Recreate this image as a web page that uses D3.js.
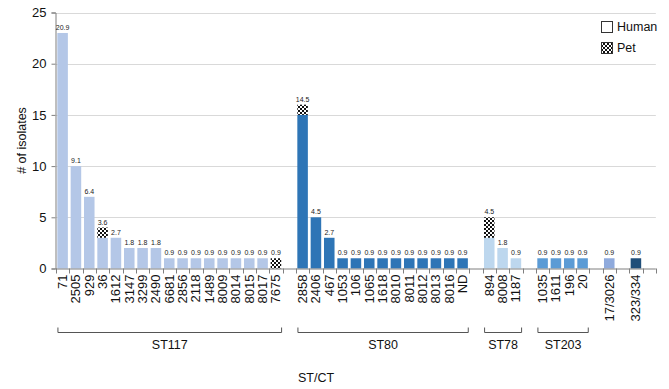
<!DOCTYPE html>
<html>
<head>
<meta charset="utf-8">
<script src="https://cdn.jsdelivr.net/npm/d3@7"></script>
<style>
  body { margin: 0; background: #fff; }
  svg { font-family: "Liberation Sans", Arial, sans-serif; }
</style>
</head>
<body>
<div id="chart"></div>
<script>
// clonal complex (CT) per bar
const ctLabels = [
    '71', '2505', '929', '36', '1612', '3147', '3299', '2490', '6681', '2856', '2118', '1489', '8009', '8014', '8015', '8017', '7675',
    '2858', '2406', '467', '1053', '106', '1065', '1618', '8010', '8011', '8012', '8013', '8016', 'ND',
    '894', '8008', '1187',
    '1035', '1611', '196', '20',
    '17/3026',
    '323/334'
];
const stGroup = [
    'ST117', 'ST117', 'ST117', 'ST117', 'ST117', 'ST117', 'ST117', 'ST117', 'ST117', 'ST117', 'ST117', 'ST117', 'ST117', 'ST117', 'ST117', 'ST117', 'ST117',
    'ST80', 'ST80', 'ST80', 'ST80', 'ST80', 'ST80', 'ST80', 'ST80', 'ST80', 'ST80', 'ST80', 'ST80', 'ST80',
    'ST78', 'ST78', 'ST78',
    'ST203', 'ST203', 'ST203', 'ST203',
    'ST17',
    'ST323'
];
const humanCounts = [
    23, 10, 7, 3, 3, 2, 2, 2, 1, 1, 1, 1, 1, 1, 1, 1, 0,
    15, 5, 3, 1, 1, 1, 1, 1, 1, 1, 1, 1, 1,
    3, 2, 1,
    1, 1, 1, 1,
    1,
    1
];
const petCounts = [
    0, 0, 0, 1, 0, 0, 0, 0, 0, 0, 0, 0, 0, 0, 0, 0, 1,
    1, 0, 0, 0, 0, 0, 0, 0, 0, 0, 0, 0, 0,
    2, 0, 0,
    0, 0, 0, 0,
    0,
    0
];
const percentLabels = [
    '20.9', '9.1', '6.4', '3.6', '2.7', '1.8', '1.8', '1.8', '0.9', '0.9', '0.9', '0.9', '0.9', '0.9', '0.9', '0.9', '0.9',
    '14.5', '4.5', '2.7', '0.9', '0.9', '0.9', '0.9', '0.9', '0.9', '0.9', '0.9', '0.9', '0.9',
    '4.5', '1.8', '0.9',
    '0.9', '0.9', '0.9', '0.9',
    '0.9',
    '0.9'
];
const groupNames = ['ST117', 'ST80', 'ST78', 'ST203', 'ST17', 'ST323'];
const groupColors = ['#b4c7e7', '#2e75b6', '#bdd7ee', '#5b9bd5', '#8faadc', '#1f4e79'];
const bracketGroups = ['ST117', 'ST80', 'ST78', 'ST203'];
const yTicks = [0, 5, 10, 15, 20, 25];

const width = 669, height = 389;
const margin = {top: 12.5, left: 56, bottom: 120.5};

// slots: bars plus one empty slot after each group
const slots = [];
ctLabels.forEach((c, i) => {
    if (i > 0 && stGroup[i] !== stGroup[i - 1]) slots.push('gap' + i);
    slots.push(c);
});
slots.push('gapEnd');

const step = 13.33;
const x = d3.scaleBand()
    .domain(slots)
    .range([margin.left, margin.left + step * slots.length])
    .paddingInner(0.21)
    .paddingOuter(0.1);
const y = d3.scaleLinear()
    .domain([0, 25])
    .range([height - margin.bottom, margin.top]);
const color = d3.scaleOrdinal().domain(groupNames).range(groupColors);

const svg = d3.select('#chart').append('svg')
    .attr('width', width)
    .attr('height', height);

// checker pattern for pet isolates
const pattern = svg.append('defs').append('pattern')
    .attr('id', 'checker')
    .attr('width', 4)
    .attr('height', 4)
    .attr('patternUnits', 'userSpaceOnUse');
pattern.append('rect').attr('width', 4).attr('height', 4).attr('fill', '#fff');
pattern.append('rect').attr('width', 2).attr('height', 2).attr('fill', '#111');
pattern.append('rect').attr('x', 2).attr('y', 2).attr('width', 2).attr('height', 2).attr('fill', '#111');

const x0 = margin.left, x1 = margin.left + step * slots.length;

// gridlines
svg.append('g')
    .selectAll('line')
    .data(yTicks.filter(d => d > 0))
    .enter()
    .append('line')
    .attr('x1', x0).attr('x2', x1)
    .attr('y1', d => Math.round(y(d)) + 0.5).attr('y2', d => Math.round(y(d)) + 0.5)
    .attr('stroke', '#d9d9d9');

// y axis
const yAxis = svg.append('g')
    .attr('transform', `translate(${x0 - 0.5},0)`)
    .call(d3.axisLeft(y).tickValues(yTicks).tickSize(4).tickPadding(5));
yAxis.select('.domain').attr('stroke', '#7f7f7f');
yAxis.selectAll('.tick line').attr('stroke', '#7f7f7f');
yAxis.selectAll('.tick text').style('font-size', '13px').attr('fill', '#111');

// bars
const bars = svg.append('g');
ctLabels.forEach((c, i) => {
    const bx = x(c), bw = x.bandwidth();
    const h = humanCounts[i], p = petCounts[i];
    if (h > 0) {
        bars.append('rect')
            .attr('x', bx).attr('width', bw)
            .attr('y', y(h)).attr('height', y(0) - y(h))
            .attr('fill', color(stGroup[i]));
    }
    if (p > 0) {
        bars.append('rect')
            .attr('x', bx).attr('width', bw)
            .attr('y', y(h + p)).attr('height', y(h) - y(h + p))
            .attr('fill', 'url(#checker)');
    }
    bars.append('text')
        .attr('x', bx + bw / 2)
        .attr('y', y(h + p) - 3)
        .attr('text-anchor', 'middle')
        .style('font-size', '7px')
        .attr('fill', '#222')
        .text(percentLabels[i]);
});

// x axis: ticks at slot boundaries
const xAxis = svg.append('g');
xAxis.append('line')
    .attr('x1', x0).attr('x2', x1)
    .attr('y1', y(0) + 0.5).attr('y2', y(0) + 0.5)
    .attr('stroke', '#7f7f7f');
xAxis.selectAll('.xtick')
    .data(d3.range(slots.length + 1))
    .enter()
    .append('line')
    .attr('x1', i => Math.round(x0 + i * step) + 0.5)
    .attr('x2', i => Math.round(x0 + i * step) + 0.5)
    .attr('y1', y(0)).attr('y2', y(0) + 5)
    .attr('stroke', '#7f7f7f');
xAxis.selectAll('.xlabel')
    .data(ctLabels)
    .enter()
    .append('text')
    .attr('transform', d => `translate(${x(d) + x.bandwidth() / 2},${y(0) + 6}) rotate(-90)`)
    .attr('text-anchor', 'end')
    .attr('dy', '0.35em')
    .style('font-size', '13px')
    .attr('fill', '#111')
    .text(d => d);

// group brackets
const bracketY = 332.5;
bracketGroups.forEach(g => {
    const members = ctLabels.filter((c, i) => stGroup[i] === g);
    const bx0 = x(members[0]) - x.step() * x.paddingInner() / 2 + 2;
    const bx1 = x(members[members.length - 1]) + x.bandwidth() + x.step() * x.paddingInner() / 2 - 1;
    svg.append('path')
        .attr('d', `M${bx0},${bracketY - 5}V${bracketY}H${bx1}V${bracketY - 5}`)
        .attr('fill', 'none')
        .attr('stroke', '#555');
    svg.append('text')
        .attr('x', (bx0 + bx1) / 2)
        .attr('y', bracketY + 16)
        .attr('text-anchor', 'middle')
        .style('font-size', '12.5px')
        .attr('fill', '#111')
        .text(g);
});

// axis titles
svg.append('text')
    .attr('transform', `translate(22,${(y(0) + y(25)) / 2}) rotate(-90)`)
    .attr('text-anchor', 'middle')
    .attr('dy', '0.35em')
    .style('font-size', '12.5px')
    .attr('fill', '#111')
    .text('# of isolates');
svg.append('text')
    .attr('x', 316)
    .attr('y', 382)
    .attr('text-anchor', 'middle')
    .style('font-size', '12.5px')
    .attr('fill', '#111')
    .text('ST/CT');

// legend
const legend = svg.append('g').attr('transform', 'translate(601,21)');
legend.append('rect')
    .attr('x', 0.5).attr('y', 0.5).attr('width', 11).attr('height', 11)
    .attr('fill', '#fff').attr('stroke', '#333');
legend.append('text')
    .attr('x', 16).attr('y', 6).attr('dy', '0.35em')
    .style('font-size', '12.5px').attr('fill', '#111')
    .text('Human');
legend.append('rect')
    .attr('x', 0.5).attr('y', 21.5).attr('width', 11).attr('height', 11)
    .attr('fill', 'url(#checker)').attr('stroke', '#333');
legend.append('text')
    .attr('x', 16).attr('y', 27).attr('dy', '0.35em')
    .style('font-size', '12.5px').attr('fill', '#111')
    .text('Pet');
</script>
</body>
</html>
